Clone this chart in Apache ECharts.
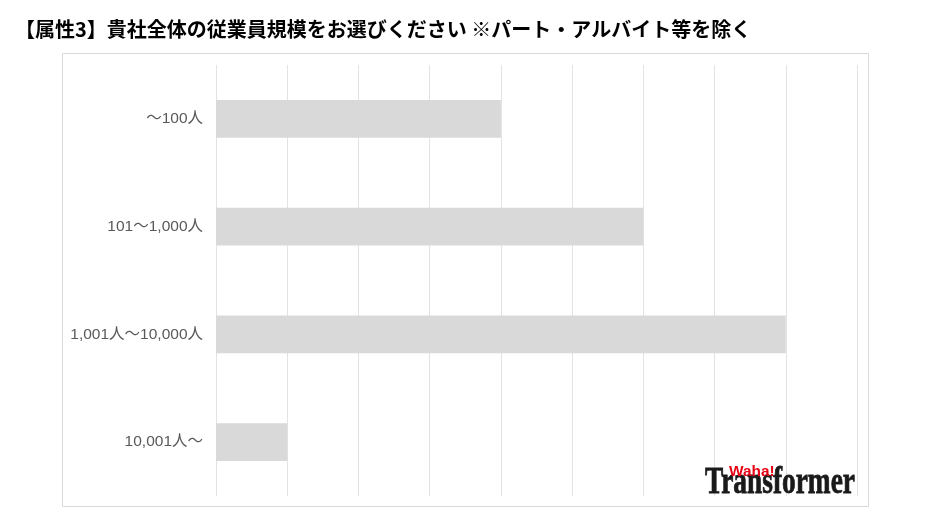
<!DOCTYPE html>
<html>
<head>
<meta charset="utf-8">
<script src="https://cdn.jsdelivr.net/npm/echarts@6/dist/echarts.min.js"></script>
<style>
html,body{margin:0;padding:0;background:#fff;}
#c{width:926px;height:514px;}
</style>
</head>
<body>
<div id="c"></div>
<script>
const titleText = '【属性3】貴社全体の従業員規模をお選びください ※パート・アルバイト等を除く';
const categories = ['～100人', '101～1,000人', '1,001人～10,000人', '10,001人～'];
const values = [4, 6, 8, 1];
const axisMin = 0;
const axisMax = 9;
const axisInterval = 1;

const chart = echarts.init(document.getElementById('c'), null, {renderer: 'canvas'});
chart.setOption({
  backgroundColor: '#ffffff',
  animation: false,
  title: {
    text: titleText,
    left: 10,
    top: 14,
    textStyle: {
      fontFamily: 'Noto Sans CJK JP',
      fontWeight: 'bold',
      fontSize: 20,
      color: '#000000'
    }
  },
  graphic: [
    {
      type: 'rect',
      shape: {x: 62.5, y: 53.5, width: 806, height: 453},
      style: {fill: 'none', stroke: '#d9d9d9', lineWidth: 1},
      z: -1
    },
    {
      type: 'text',
      x: 705,
      y: 502,
      scaleX: 0.72,
      style: {
        text: 'Transformer',
        font: 'bold 38px "Liberation Serif"',
        fill: '#1a1a1a',
        stroke: '#1a1a1a',
        lineWidth: 0.8,
        verticalAlign: 'bottom'
      },
      z: 10
    },
    {
      type: 'text',
      x: 729,
      y: 479,
      scaleX: 1.1,
      style: {
        text: 'Waha!',
        font: 'bold 14px "Liberation Sans"',
        fill: '#e60012',
        verticalAlign: 'bottom'
      },
      z: 11
    }
  ],
  grid: {
    left: 216,
    right: 69,
    top: 65,
    bottom: 18,
    containLabel: false
  },
  xAxis: {
    type: 'value',
    min: axisMin,
    max: axisMax,
    interval: axisInterval,
    axisLabel: {show: false},
    axisLine: {show: false},
    axisTick: {show: false},
    splitLine: {show: true, lineStyle: {color: '#e3e3e3', width: 1}}
  },
  yAxis: {
    type: 'category',
    inverse: true,
    data: categories,
    axisLine: {show: false},
    axisTick: {show: false},
    axisLabel: {
      margin: 13,
      color: '#595959',
      fontSize: 15.5,
      fontFamily: '"Liberation Sans", "Noto Sans CJK JP"'
    }
  },
  series: [{
    type: 'bar',
    data: values,
    barWidth: '35%',
    itemStyle: {color: '#d9d9d9'},
    silent: true
  }]
});
</script>
</body>
</html>
